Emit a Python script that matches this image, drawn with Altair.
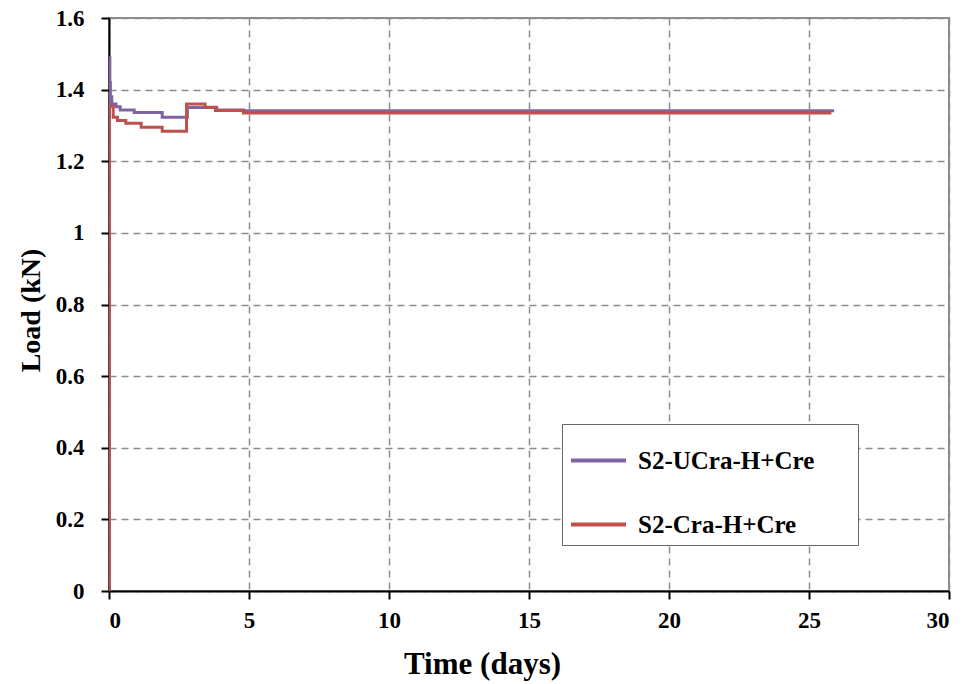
import altair as alt
import pandas as pd

# Series labels and colours
series_names = ["S2-UCra-H+Cre", "S2-Cra-H+Cre"]
series_colors = ["#8064A2", "#C0504D"]

# S2-UCra-H+Cre: time (days) and load (kN), stepwise record
ucra_time = [0.0, 0.01, 0.03, 0.05, 0.10, 0.25, 0.40, 0.90, 1.90, 2.80, 3.85, 4.80, 25.90]
ucra_load = [0.0, 1.489, 1.420, 1.380, 1.360, 1.352, 1.343, 1.336, 1.323, 1.350, 1.343, 1.341, 1.341]

# S2-Cra-H+Cre: time (days) and load (kN), stepwise record
cra_time = [0.0, 0.01, 0.15, 0.30, 0.60, 1.15, 1.90, 2.77, 3.43, 3.80, 4.80, 25.80]
cra_load = [0.0, 1.353, 1.323, 1.314, 1.306, 1.295, 1.284, 1.360, 1.351, 1.342, 1.335, 1.335]

# Axis ticks
x_ticks = [0, 5, 10, 15, 20, 25, 30]
y_ticks = [0, 0.2, 0.4, 0.6, 0.8, 1.0, 1.2, 1.4, 1.6]

rows = []
for name, ts, vs in [(series_names[0], ucra_time, ucra_load),
                     (series_names[1], cra_time, cra_load)]:
    for i, (t, v) in enumerate(zip(ts, vs)):
        rows.append({"series": name, "idx": i, "time": t, "load": v})
df = pd.DataFrame(rows)

FONT = "Liberation Serif"

axis_common = dict(
    labelFont=FONT, labelFontWeight="bold", labelColor="black",
    titleFont=FONT, titleFontWeight="bold", titleColor="black",
    domainColor="black", domainWidth=2,
    tickColor="black", tickWidth=2, tickSize=8,
    grid=True, gridColor="#8c8c8c", gridDash=[7, 5], gridWidth=1.5,
)

chart = alt.Chart(df).mark_line(
    interpolate="step-after", strokeWidth=3, clip=True
).encode(
    x=alt.X(
        "time:Q",
        scale=alt.Scale(domain=[0, 30], nice=False),
        axis=alt.Axis(
            values=x_ticks, title="Time (days)",
            labelFontSize=23, labelPadding=10,
            titleFontSize=31, titleX=373, titleY=82,
            titleAlign="center", titleBaseline="alphabetic",
            **axis_common,
        ),
    ),
    y=alt.Y(
        "load:Q",
        scale=alt.Scale(domain=[0, 1.6], nice=False),
        axis=alt.Axis(
            values=y_ticks, format="~g", title="Load (kN)",
            labelFontSize=23, labelPadding=17,
            titleFontSize=28, titleAngle=270, titleX=-70, titleY=292,
            titleAlign="center", titleBaseline="alphabetic",
            **axis_common,
        ),
    ),
    color=alt.Color(
        "series:N",
        scale=alt.Scale(domain=series_names, range=series_colors),
        legend=alt.Legend(
            title=None, orient="none", legendX=453, legendY=406,
            symbolType="stroke", symbolSize=3025, symbolStrokeWidth=4,
            labelFont=FONT, labelFontWeight="bold", labelFontSize=25,
            labelColor="black", labelOffset=10, labelLimit=400,
            labelExpr="datum.label + '\u2800\u2800'",
            rowPadding=21, padding=7,
            strokeColor="#666666", fillColor="white",
        ),
    ),
    order=alt.Order("idx:Q"),
).properties(
    width=840,
    height=573,
    autosize=alt.AutoSizeParams(type="none"),
    padding={"left": 109, "top": 18, "right": 17, "bottom": 93},
    background="white",
).configure_view(
    stroke="#8c8c8c", strokeWidth=2
)

chart.save("out.html", embed_options={"renderer": "svg", "actions": False})
